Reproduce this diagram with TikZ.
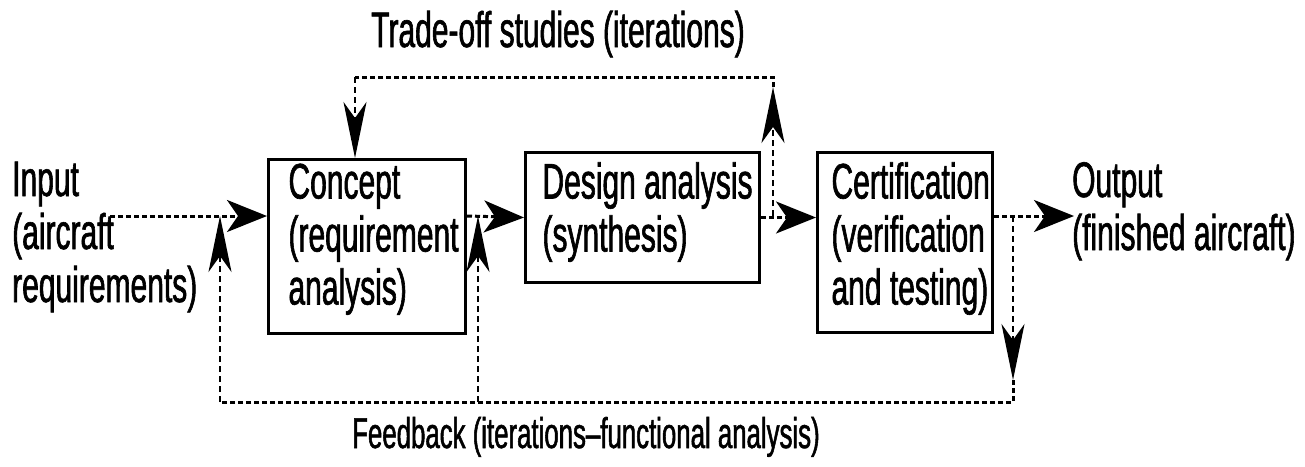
\documentclass[tikz,border=0pt]{standalone}
\usepackage{fontspec}
\setmainfont[FakeStretch=0.6, FakeBold=1.2]{Liberation Sans}
\usetikzlibrary{arrows.meta}
\begin{document}
\begin{tikzpicture}[
    x=1pt, y=-1pt,
    every node/.style={font=\fontsize{50}{53}\selectfont},
    block/.style={rectangle, draw, line width=3pt, inner sep=0pt, align=left, anchor=north west},
    textpad/.style={execute at begin node={\leftskip=#1\spaceskip=0pt\xspaceskip=0pt\hyphenpenalty=10000\relax}},
    lbl/.style={inner sep=0pt, align=left},
    flow/.style={line width=3pt, dash pattern=on 5pt off 3pt},
    arrow/.style={flow, -{Stealth[length=40pt, width=32pt, inset=11pt]}},
    varrow/.style={flow, line width=2.5pt, dash pattern=on 6pt off 4pt, -{Stealth[length=56pt, width=23pt, inset=16pt]}}
]
\useasboundingbox (0,0) rectangle (1305,466);

\node[block, textpad=20pt, text width=197pt, text height=39pt, text depth=135pt] (concept) at (267,158) {Concept\\(requirement\\analysis)};
\node[block, textpad=17pt, text width=234pt, text height=46pt, text depth=84pt] (design) at (524,151) {\mbox{Design analysis}\\(synthesis)};
\node[block, textpad=14pt, text width=175pt, text height=46pt, text depth=134pt] (cert) at (816,151) {Certification\\(verification\\\mbox{and testing)}};

\node[lbl, anchor=base west] (input) at (12,302) {Input\\(aircraft\\requirements)};
\node[lbl, anchor=base west] (output) at (1072,250) {Output\\(finished aircraft)};
\node[lbl, anchor=base] (trade) at (558,47) {Trade-off studies (iterations)};
\node[lbl, anchor=base, font=\fontsize{43}{46}\selectfont] (feedback) at (586,448) {Feedback (iterations--functional analysis)};

\coordinate (inStart) at (110,216);
\coordinate (j1) at (220,216);
\coordinate (j2) at (478,216);
\coordinate (j3) at (773,216);
\coordinate (j4) at (1013,216);
\coordinate (outEnd) at (1074,216);
\coordinate (tradeTip) at (773,87);
\coordinate (tradeLeft) at (355,77);
\coordinate (fbTip) at (1013,380);
\coordinate (fbLeft) at (220,402);

\draw[arrow] (inStart) -- (inStart -| concept.west);
\draw[arrow] (concept.east |- j2) -- (design.west);
\draw[arrow] (design.east) -- (design.east -| cert.west);
\draw[arrow] (cert.east |- j4) -- (outEnd);
\draw[varrow] (j3) -- (tradeTip);
\draw[flow] (tradeTip) |- (tradeLeft);
\draw[varrow] (tradeLeft) -- (tradeLeft |- concept.north);
\draw[varrow] (j4) -- (fbTip);
\draw[flow] (fbTip) |- (fbLeft);
\draw[varrow] (fbLeft) -- (j1);
\draw[varrow] (j2 |- fbLeft) -- (j2);

\end{tikzpicture}
\end{document}
